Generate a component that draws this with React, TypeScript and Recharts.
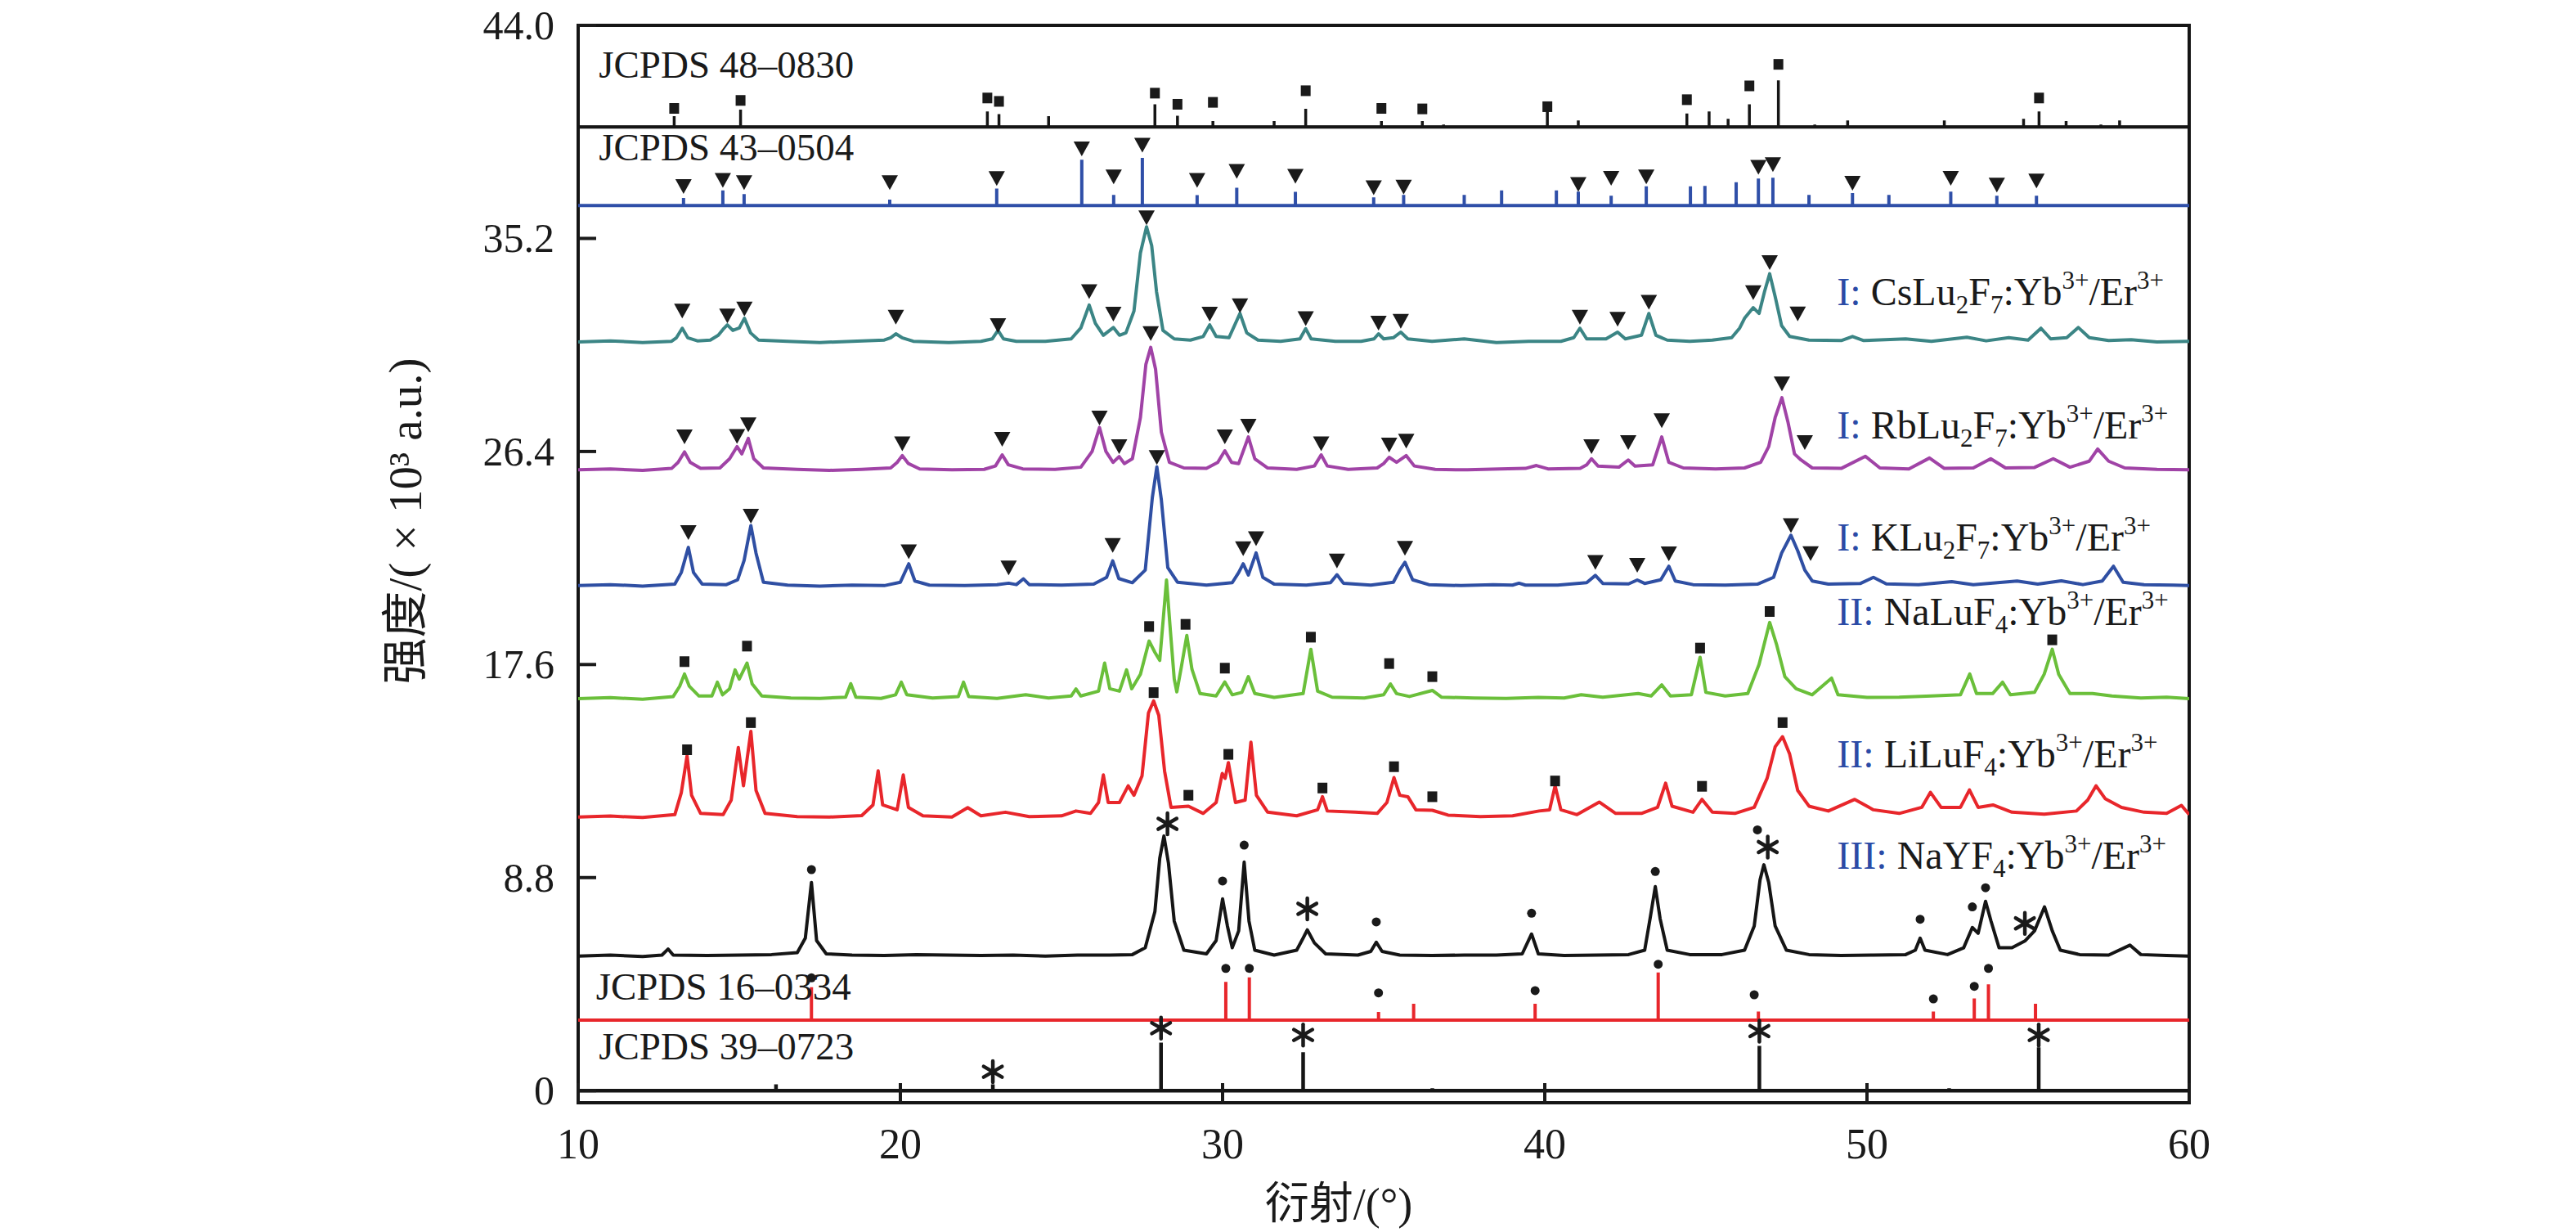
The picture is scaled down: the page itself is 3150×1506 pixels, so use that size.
import React from 'react';
import {
  ComposedChart,
  Line,
  Scatter,
  XAxis,
  YAxis,
  ReferenceArea,
  ReferenceLine,
} from 'recharts';

// ---- axes ----
const xTicks = [10, 20, 30, 40, 50, 60];
const yTicks = [0, 8.8, 17.6, 26.4, 35.2, 44];
const yTickLabels = ['0', '8.8', '17.6', '26.4', '35.2', '44.0'];

// ---- reference cards (stick patterns): [2θ, top] ----
const jcpds480830Base = 39.8;
const jcpds480830: [number, number][] = [
  [12.98, 40.25], [15.04, 40.52], [22.7, 40.44], [23.06, 40.33], [24.6, 40.25],
  [27.9, 40.74], [28.6, 40.27], [29.7, 40.05], [31.6, 40.05], [32.58, 40.55],
  [34.93, 40.05], [36.2, 40.05], [36.86, 39.9], [40.08, 40.44], [41.04, 40.07],
  [44.41, 40.36], [45.1, 40.44], [45.69, 40.14], [46.35, 40.74], [47.25, 41.73],
  [48.38, 39.9], [49.4, 40.07], [52.4, 40.07], [54.86, 40.14], [55.34, 40.44],
  [56.18, 40.05], [57.26, 39.9], [57.84, 40.07],
];

const jcpds430504Base = 36.56;
const jcpds430504: [number, number][] = [
  [13.27, 36.87], [14.49, 37.18], [15.15, 37.03], [19.67, 36.8], [22.99, 37.26],
  [25.63, 38.45], [26.62, 37.0], [27.51, 38.53], [29.21, 36.99], [30.44, 37.29],
  [32.26, 37.12], [34.69, 36.9], [35.62, 37.0], [37.5, 37.0], [38.66, 37.18],
  [40.36, 37.18], [41.04, 37.13], [42.06, 36.96], [43.15, 37.35], [44.52, 37.35],
  [44.97, 37.37], [45.94, 37.52], [46.63, 37.67], [47.08, 37.71], [48.2, 37.0],
  [49.55, 37.07], [50.68, 37.0], [52.6, 37.13], [54.03, 36.96], [55.26, 36.96],
];

const jcpds160334Base = 2.91;
const jcpds160334: [number, number][] = [
  [17.24, 4.27], [30.1, 4.49], [30.83, 4.68], [34.84, 3.25], [35.93, 3.59],
  [39.7, 3.59], [43.52, 4.88], [46.63, 3.27], [52.06, 3.27], [53.33, 3.81],
  [53.77, 4.39], [55.23, 3.59],
];

const jcpds390723Base = 0;
const jcpds390723: [number, number][] = [
  [16.14, 0.26], [22.87, 0.26], [28.09, 1.98], [32.5, 1.59], [36.51, 0.1],
  [46.66, 1.85], [52.55, 0.1], [55.33, 1.79],
];

// ---- measured patterns: [2θ, intensity] ----
const csLu2F7: [number, number][] = [
  [10, 30.92], [11, 30.97], [12, 30.9], [12.9, 30.95], [13.05, 31.1], [13.23, 31.49], [13.4, 31.1], [13.7, 30.97],
  [14.1, 31.0], [14.35, 31.2], [14.5, 31.45], [14.63, 31.63], [14.8, 31.4], [15.0, 31.5], [15.16, 31.9], [15.35, 31.3], [15.6, 31.0],
  [16.5, 30.95], [17.5, 30.9], [18.5, 30.95], [19.5, 31.0], [19.7, 31.1], [19.86, 31.26], [20.05, 31.1], [20.4, 30.95],
  [21.5, 30.9], [22.5, 30.95], [22.85, 31.05], [23.03, 31.4], [23.2, 31.05], [23.6, 30.95],
  [24.5, 30.95], [25.3, 31.05], [25.6, 31.5], [25.86, 32.45], [26.05, 31.7], [26.3, 31.2], [26.61, 31.52], [26.8, 31.2],
  [27.0, 31.3], [27.25, 32.2], [27.45, 34.6], [27.64, 35.68], [27.8, 34.9], [27.95, 33.0], [28.15, 31.4], [28.5, 31.05],
  [29.0, 31.0], [29.4, 31.15], [29.6, 31.63], [29.8, 31.15], [30.2, 31.1], [30.54, 32.1], [30.75, 31.3], [31.1, 31.0],
  [31.8, 30.95], [32.4, 31.05], [32.58, 31.47], [32.75, 31.05], [33.5, 30.95], [34.3, 30.95], [34.7, 31.05], [34.84, 31.26],
  [35.0, 31.05], [35.3, 31.1], [35.53, 31.33], [35.75, 31.05], [36.5, 30.95], [37.5, 31.05], [38.5, 30.9], [39.5, 30.95],
  [40.5, 30.95], [40.9, 31.1], [41.09, 31.49], [41.3, 31.05], [41.9, 31.05], [42.26, 31.33], [42.5, 31.05], [43.0, 31.2],
  [43.23, 32.1], [43.45, 31.2], [43.8, 31.0], [44.5, 30.95], [45.2, 31.0], [45.8, 31.1], [46.05, 31.5], [46.2, 31.9],
  [46.47, 32.34], [46.65, 32.1], [46.82, 33.0], [46.98, 33.74], [47.15, 32.8], [47.35, 31.6], [47.6, 31.15], [48.2, 31.0],
  [49.2, 30.98], [49.55, 31.15], [49.9, 30.98], [51.2, 31.05], [52.0, 30.95], [53.1, 31.12], [53.7, 30.97], [54.4, 31.1],
  [55.0, 31.0], [55.4, 31.49], [55.7, 31.05], [56.2, 31.1], [56.56, 31.52], [56.9, 31.1], [57.5, 30.98], [58.2, 31.02],
  [59, 30.92], [60, 30.95],
];

const rbLu2F7: [number, number][] = [
  [10, 25.64], [11, 25.68], [12, 25.62], [12.9, 25.7], [13.1, 25.95], [13.3, 26.38], [13.48, 25.95], [13.8, 25.7],
  [14.4, 25.72], [14.7, 26.1], [14.93, 26.6], [15.08, 26.3], [15.28, 26.94], [15.45, 26.1], [15.75, 25.72],
  [16.8, 25.66], [17.8, 25.62], [18.8, 25.66], [19.7, 25.72], [19.9, 25.95], [20.06, 26.23], [20.25, 25.9], [20.6, 25.68],
  [21.6, 25.64], [22.6, 25.66], [22.95, 25.8], [23.16, 26.26], [23.35, 25.85], [23.8, 25.68], [24.8, 25.66], [25.6, 25.75],
  [25.95, 26.4], [26.18, 27.39], [26.38, 26.4], [26.6, 25.95], [26.79, 26.19], [26.95, 25.9], [27.2, 26.1], [27.45, 27.8],
  [27.62, 30.0], [27.77, 30.7], [27.92, 29.8], [28.1, 27.2], [28.35, 25.95], [28.8, 25.72],
  [29.5, 25.7], [29.85, 25.95], [30.07, 26.43], [30.28, 25.95], [30.5, 25.9], [30.8, 27.0], [31.0, 26.1], [31.4, 25.72],
  [32.3, 25.66], [32.85, 25.8], [33.06, 26.26], [33.25, 25.8], [33.9, 25.66], [34.8, 25.72], [35.0, 25.9], [35.17, 26.16],
  [35.4, 25.95], [35.7, 26.23], [35.95, 25.8], [36.6, 25.66], [37.6, 25.64], [38.6, 25.68], [39.4, 25.7], [39.74, 25.82],
  [40.1, 25.68], [41.1, 25.7], [41.3, 25.85], [41.45, 26.1], [41.65, 25.8], [42.3, 25.75], [42.59, 26.05], [42.8, 25.8],
  [43.35, 25.85], [43.63, 27.0], [43.85, 25.95], [44.3, 25.72], [45.3, 25.68], [46.2, 25.72], [46.7, 25.95], [46.95, 26.6],
  [47.15, 27.8], [47.36, 28.62], [47.55, 27.6], [47.75, 26.3], [47.95, 26.05], [48.3, 25.72], [49.2, 25.7], [49.95, 26.2],
  [50.4, 25.72], [51.3, 25.68], [51.94, 26.13], [52.4, 25.7], [53.3, 25.72], [53.84, 26.1], [54.3, 25.72], [55.2, 25.74],
  [55.78, 26.1], [56.3, 25.75], [56.9, 26.0], [57.16, 26.5], [57.5, 26.0], [58.0, 25.72], [59.0, 25.66], [60, 25.64],
];

const kLu2F7: [number, number][] = [
  [10, 20.86], [11, 20.9], [12, 20.84], [13.0, 20.92], [13.2, 21.4], [13.42, 22.44], [13.58, 21.4], [13.85, 20.92],
  [14.6, 20.9], [14.95, 21.1], [15.15, 21.9], [15.36, 23.34], [15.52, 22.2], [15.75, 21.0], [16.5, 20.88], [17.5, 20.84],
  [18.5, 20.88], [19.5, 20.86], [20.0, 21.0], [20.26, 21.76], [20.45, 21.05], [20.9, 20.88], [22.0, 20.86], [23.0, 20.9],
  [23.36, 20.96], [23.6, 20.9], [23.82, 21.14], [24.0, 20.9], [25.0, 20.88], [26.0, 20.92], [26.4, 21.2], [26.59, 21.88],
  [26.78, 21.15], [27.2, 20.98], [27.6, 21.5], [27.82, 24.5], [27.96, 25.76], [28.1, 24.4], [28.3, 21.6], [28.6, 21.0],
  [29.5, 20.88], [30.3, 20.98], [30.5, 21.4], [30.64, 21.76], [30.8, 21.3], [31.04, 22.21], [31.25, 21.2], [31.6, 20.92],
  [32.6, 20.88], [33.35, 20.98], [33.55, 21.31], [33.75, 20.96], [34.6, 20.88], [35.3, 21.0], [35.5, 21.5], [35.66, 21.82],
  [35.9, 21.1], [36.4, 20.9], [37.4, 20.86], [38.4, 20.9], [39.0, 20.88], [39.2, 20.96], [39.4, 20.88], [40.4, 20.88],
  [41.3, 20.98], [41.57, 21.28], [41.8, 20.95], [42.6, 20.93], [42.87, 21.09], [43.1, 20.95], [43.6, 21.1], [43.85, 21.66],
  [44.05, 21.05], [44.6, 20.9], [45.6, 20.88], [46.6, 20.92], [47.1, 21.2], [47.35, 22.2], [47.64, 22.94], [47.85, 22.3],
  [48.07, 21.5], [48.3, 21.05], [48.8, 20.92], [49.8, 20.95], [50.2, 21.2], [50.6, 20.93], [51.6, 20.9], [52.63, 21.02],
  [53.3, 20.9], [54.66, 21.05], [55.3, 20.92], [56.03, 21.06], [56.7, 20.9], [57.3, 21.05], [57.65, 21.66], [57.95, 21.0],
  [58.6, 20.9], [59.5, 20.88], [60, 20.86],
];

const naLuF4: [number, number][] = [
  [10, 16.19], [11, 16.23], [12, 16.17], [12.95, 16.28], [13.15, 16.7], [13.3, 17.21], [13.45, 16.7], [13.75, 16.3],
  [14.15, 16.3], [14.32, 16.87], [14.48, 16.35], [14.7, 16.6], [14.87, 17.38], [15.0, 17.0], [15.24, 17.66], [15.4, 16.8],
  [15.7, 16.3], [16.6, 16.22], [17.5, 16.2], [18.3, 16.25], [18.46, 16.81], [18.62, 16.25], [19.4, 16.2], [19.85, 16.35],
  [20.03, 16.87], [20.2, 16.35], [21.0, 16.22], [21.8, 16.28], [21.96, 16.87], [22.12, 16.28], [23.0, 16.2], [23.89, 16.35],
  [24.6, 16.22], [25.3, 16.3], [25.45, 16.59], [25.6, 16.3], [26.15, 16.5], [26.34, 17.66], [26.5, 16.6], [26.8, 16.5],
  [27.02, 17.38], [27.18, 16.6], [27.45, 17.2], [27.72, 18.57], [27.9, 18.1], [28.05, 17.77], [28.16, 19.5], [28.26, 21.09],
  [28.38, 19.0], [28.5, 17.0], [28.58, 16.47], [28.72, 17.5], [28.89, 18.8], [29.05, 17.4], [29.3, 16.4], [29.8, 16.3],
  [30.07, 16.88], [30.3, 16.35], [30.6, 16.45], [30.8, 17.1], [31.0, 16.4], [31.6, 16.24], [32.5, 16.4], [32.74, 18.23],
  [32.95, 16.5], [33.4, 16.25], [34.4, 16.22], [35.0, 16.35], [35.21, 16.8], [35.4, 16.4], [35.8, 16.28], [36.51, 16.53],
  [36.8, 16.25], [37.8, 16.22], [38.8, 16.2], [39.8, 16.24], [40.6, 16.22], [41.13, 16.35], [41.8, 16.25], [42.9, 16.4],
  [43.3, 16.3], [43.63, 16.76], [43.9, 16.3], [44.55, 16.35], [44.82, 17.9], [45.0, 16.45], [45.6, 16.3], [46.3, 16.4],
  [46.65, 17.6], [46.98, 19.34], [47.2, 18.4], [47.45, 17.1], [47.8, 16.6], [48.3, 16.35], [48.9, 17.04], [49.1, 16.35],
  [50.0, 16.24], [51.0, 16.25], [52.0, 16.3], [52.9, 16.35], [53.19, 17.21], [53.4, 16.4], [53.9, 16.4], [54.21, 16.87],
  [54.45, 16.35], [55.2, 16.45], [55.5, 17.2], [55.75, 18.23], [55.95, 17.2], [56.3, 16.4], [57.0, 16.4], [57.6, 16.3],
  [58.5, 16.22], [59.3, 16.25], [60, 16.19],
];

const liLuF4: [number, number][] = [
  [10, 11.3], [11, 11.34], [12, 11.28], [13.0, 11.4], [13.2, 12.3], [13.38, 13.83], [13.52, 12.2], [13.8, 11.45],
  [14.5, 11.4], [14.75, 12.0], [14.97, 14.17], [15.13, 12.59], [15.36, 14.84], [15.52, 12.4], [15.8, 11.45], [16.8, 11.32],
  [17.8, 11.3], [18.8, 11.36], [19.15, 11.8], [19.31, 13.21], [19.45, 11.8], [19.9, 11.6], [20.09, 13.04], [20.25, 11.7],
  [20.7, 11.35], [21.6, 11.3], [22.09, 11.69], [22.5, 11.35], [23.26, 11.5], [24.0, 11.32], [25.0, 11.35], [25.45, 11.55],
  [25.9, 11.45], [26.15, 11.9], [26.3, 13.04], [26.45, 11.9], [26.8, 11.9], [27.07, 12.59], [27.25, 12.2], [27.5, 13.0],
  [27.7, 15.6], [27.86, 16.1], [28.02, 15.5], [28.2, 13.2], [28.4, 11.7], [28.94, 11.75], [29.4, 11.45], [29.8, 11.9],
  [29.99, 13.1], [30.08, 12.9], [30.18, 13.55], [30.4, 11.9], [30.7, 12.0], [30.88, 14.39], [31.05, 12.2], [31.4, 11.5],
  [32.3, 11.35], [32.95, 11.6], [33.1, 12.14], [33.25, 11.55], [34.12, 11.5], [34.8, 11.45], [35.1, 11.9], [35.32, 12.93],
  [35.5, 12.2], [35.75, 12.14], [36.0, 11.6], [36.51, 11.58], [37.0, 11.38], [38.0, 11.32], [39.0, 11.35], [39.82, 11.55],
  [40.15, 11.6], [40.32, 12.59], [40.5, 11.6], [41.0, 11.4], [41.69, 11.92], [42.2, 11.45], [43.0, 11.45], [43.5, 11.7],
  [43.75, 12.7], [43.95, 11.75], [44.6, 11.5], [44.88, 12.03], [45.2, 11.5], [45.9, 11.45], [46.5, 11.7], [46.9, 12.9],
  [47.15, 14.2], [47.38, 14.62], [47.6, 13.9], [47.85, 12.4], [48.2, 11.75], [48.8, 11.55], [49.62, 12.03], [50.2, 11.6],
  [51.0, 11.45], [51.7, 11.7], [51.97, 12.32], [52.3, 11.7], [52.9, 11.7], [53.18, 12.42], [53.45, 11.7], [53.91, 11.8],
  [54.5, 11.5], [55.5, 11.42], [56.5, 11.55], [56.85, 12.0], [57.11, 12.59], [57.4, 12.05], [57.9, 11.7], [58.6, 11.5],
  [59.3, 11.45], [59.76, 11.78], [60, 11.4],
];

const naYF4: [number, number][] = [
  [10, 5.56], [11, 5.6], [12, 5.54], [12.6, 5.6], [12.79, 5.85], [12.95, 5.6], [14, 5.58], [15, 5.6], [16, 5.62],
  [16.8, 5.7], [17.05, 6.3], [17.24, 8.6], [17.4, 6.2], [17.7, 5.65], [18.5, 5.6], [19.5, 5.58], [20.5, 5.62], [21.5, 5.6],
  [22.5, 5.58], [23.5, 5.6], [24.5, 5.56], [25.5, 5.6], [26.5, 5.6], [27.2, 5.62], [27.6, 5.9], [27.9, 7.4], [28.05, 9.6],
  [28.18, 10.52], [28.32, 9.4], [28.5, 7.0], [28.8, 5.8], [29.5, 5.65], [29.8, 6.2], [30.0, 7.92], [30.15, 6.8], [30.3, 5.9],
  [30.5, 6.6], [30.67, 9.44], [30.82, 7.0], [31.0, 5.8], [31.6, 5.6], [32.3, 5.8], [32.5, 6.3], [32.63, 6.64], [32.85, 6.1],
  [33.2, 5.65], [34.2, 5.6], [34.6, 5.75], [34.77, 6.13], [34.95, 5.75], [35.5, 5.6], [36.5, 5.58], [37.5, 5.6], [38.5, 5.6],
  [39.3, 5.65], [39.59, 6.47], [39.8, 5.65], [40.6, 5.58], [41.6, 5.6], [42.6, 5.62], [43.1, 5.8], [43.28, 7.2], [43.43, 8.43],
  [43.58, 7.1], [43.8, 5.8], [44.5, 5.62], [45.5, 5.62], [46.2, 5.8], [46.5, 6.8], [46.68, 8.7], [46.8, 9.33], [46.95, 8.6],
  [47.15, 6.8], [47.5, 5.8], [48.2, 5.62], [49.2, 5.58], [50.2, 5.6], [51.2, 5.62], [51.5, 5.8], [51.65, 6.3], [51.8, 5.8],
  [52.5, 5.62], [53.0, 5.9], [53.27, 6.74], [53.45, 6.5], [53.68, 7.82], [53.85, 7.0], [54.1, 5.9], [54.5, 5.9], [54.9, 6.18],
  [55.2, 6.6], [55.51, 7.59], [55.75, 6.6], [56.0, 5.8], [56.6, 5.62], [57.5, 5.6], [58.16, 6.01], [58.5, 5.62], [59.3, 5.58],
  [60, 5.56],
];

// ---- phase markers: [2θ, y] ----
const squareMarks: [number, number][] = [
  // JCPDS 48-0830
  [12.98, 40.57], [15.04, 40.9], [22.7, 41.0], [23.06, 40.86], [27.9, 41.2], [28.6, 40.74], [29.7, 40.82],
  [32.58, 41.3], [34.93, 40.57], [36.2, 40.55], [40.08, 40.64], [44.41, 40.93], [46.35, 41.5], [47.25, 42.39], [55.34, 41.0],
  // NaLuF4
  [13.3, 17.72], [15.24, 18.36], [27.72, 19.17], [28.85, 19.26], [30.07, 17.45], [32.74, 18.73], [35.17, 17.64],
  [36.51, 17.1], [44.82, 18.28], [46.98, 19.79], [55.75, 18.62],
  // LiLuF4
  [13.38, 14.08], [15.36, 15.2], [27.86, 16.44], [28.94, 12.2], [30.18, 13.89], [33.1, 12.5], [35.32, 13.38],
  [36.51, 12.14], [40.32, 12.79], [44.88, 12.57], [47.38, 15.2],
];

const triangleMarks: [number, number][] = [
  // JCPDS 43-0504
  [13.27, 37.34], [14.49, 37.6], [15.15, 37.5], [19.67, 37.5], [22.99, 37.67], [25.63, 38.9], [26.62, 37.74],
  [27.51, 39.05], [29.21, 37.6], [30.44, 37.97], [32.26, 37.77], [34.69, 37.29], [35.62, 37.32], [41.04, 37.43],
  [42.06, 37.68], [43.15, 37.74], [46.63, 38.14], [47.08, 38.25], [49.55, 37.48], [52.6, 37.68], [54.03, 37.4], [55.26, 37.57],
  // CsLu2F7
  [13.23, 32.2], [14.63, 32.0], [15.16, 32.28], [19.86, 31.95], [23.03, 31.6], [25.86, 33.0], [26.61, 32.07],
  [27.64, 36.05], [29.6, 32.07], [30.54, 32.42], [32.58, 31.89], [34.84, 31.7], [35.53, 31.78], [41.09, 31.95],
  [42.26, 31.86], [43.23, 32.56], [46.47, 32.96], [46.98, 34.2], [47.85, 32.08],
  // RbLu2F7
  [13.3, 27.0], [14.93, 27.02], [15.28, 27.5], [20.06, 26.72], [23.16, 26.9], [26.18, 27.78], [26.79, 26.6],
  [27.77, 31.27], [30.07, 27.0], [30.8, 27.44], [33.06, 26.72], [35.17, 26.67], [35.7, 26.83], [41.45, 26.6],
  [42.59, 26.77], [43.63, 27.67], [47.36, 29.19], [48.07, 26.77],
  // KLu2F7
  [13.42, 23.05], [15.36, 23.73], [20.26, 22.26], [23.36, 21.59], [26.59, 22.52], [27.96, 26.15], [30.64, 22.38],
  [31.04, 22.8], [33.55, 21.88], [35.66, 22.4], [41.57, 21.82], [42.87, 21.7], [43.85, 22.17], [47.64, 23.34], [48.25, 22.18],
];

const dotMarks: [number, number][] = [
  // NaYF4 (cubic)
  [17.24, 9.13], [30.0, 8.66], [30.67, 10.14], [34.77, 6.97], [39.59, 7.33], [43.43, 9.05], [46.6, 10.77],
  [51.65, 7.08], [53.27, 7.59], [53.68, 8.38],
  // JCPDS 16-0334
  [17.24, 4.66], [30.1, 5.05], [30.83, 5.05], [34.84, 4.04], [39.7, 4.13], [43.52, 5.22], [46.5, 3.96],
  [52.06, 3.79], [53.33, 4.31], [53.77, 5.05],
];

const starMarks: [number, number][] = [
  // NaYF4 (hexagonal)
  [28.29, 11.02], [32.63, 7.51], [46.92, 10.06], [54.9, 6.91],
  // JCPDS 39-0723
  [22.87, 0.78], [28.09, 2.58], [32.5, 2.3], [46.66, 2.46], [55.33, 2.3],
];

// ---- text labels ----
const cardLabels = [
  { x: 10.64, y: 41.85, text: 'JCPDS 48–0830' },
  { x: 10.64, y: 38.41, text: 'JCPDS 43–0504' },
  { x: 10.55, y: 3.76, text: 'JCPDS 16–0334' },
  { x: 10.64, y: 1.28, text: 'JCPDS 39–0723' },
];

type Part = [string, '' | 'sub' | 'sup'];
const sampleLabels: { x: number; y: number; phase: string; body: Part[] }[] = [
  { x: 49.07, y: 32.44, phase: 'I', body: [['CsLu', ''], ['2', 'sub'], ['F', ''], ['7', 'sub'], [':Yb', ''], ['3+', 'sup'], ['/Er', ''], ['3+', 'sup']] },
  { x: 49.07, y: 26.94, phase: 'I', body: [['RbLu', ''], ['2', 'sub'], ['F', ''], ['7', 'sub'], [':Yb', ''], ['3+', 'sup'], ['/Er', ''], ['3+', 'sup']] },
  { x: 49.07, y: 22.32, phase: 'I', body: [['KLu', ''], ['2', 'sub'], ['F', ''], ['7', 'sub'], [':Yb', ''], ['3+', 'sup'], ['/Er', ''], ['3+', 'sup']] },
  { x: 49.07, y: 19.23, phase: 'II', body: [['NaLuF', ''], ['4', 'sub'], [':Yb', ''], ['3+', 'sup'], ['/Er', ''], ['3+', 'sup']] },
  { x: 49.07, y: 13.36, phase: 'II', body: [['LiLuF', ''], ['4', 'sub'], [':Yb', ''], ['3+', 'sup'], ['/Er', ''], ['3+', 'sup']] },
  { x: 49.07, y: 9.16, phase: 'III', body: [['NaYF', ''], ['4', 'sub'], [':Yb', ''], ['3+', 'sup'], ['/Er', ''], ['3+', 'sup']] },
];

const SERIF = '"Liberation Serif", "Times New Roman", "Noto Sans CJK SC", serif';
const INK = '#1a1a1a';
const PHASE_BLUE = '#2b4ba6';

const toPoints = (arr: [number, number][]) => arr.map(([x, y]) => ({ x, y }));

function stickSeries(base: number, sticks: [number, number][]) {
  const pts = [{ x: 10, y: base }];
  sticks.forEach(([p, h]) => {
    pts.push({ x: p, y: base }, { x: p, y: h }, { x: p, y: base });
  });
  pts.push({ x: 60, y: base });
  return pts;
}

const Square = (props: any) => (
  <rect x={props.cx - 6} y={props.cy - 6.5} width={12} height={13} fill={INK} />
);

const Triangle = (props: any) => {
  const { cx, cy } = props;
  return <polygon points={`${cx - 10},${cy - 9} ${cx + 10},${cy - 9} ${cx},${cy + 9}`} fill={INK} />;
};

const Dot = (props: any) => <circle cx={props.cx} cy={props.cy} r={5.5} fill={INK} />;

const Star = (props: any) => {
  const { cx, cy } = props;
  const r = 13;
  const angles = [90, 30, -30];
  return (
    <g stroke={INK} strokeWidth={4.5} strokeLinecap="round">
      {angles.map((a) => {
        const dx = r * Math.cos((a * Math.PI) / 180);
        const dy = r * Math.sin((a * Math.PI) / 180);
        return <line key={a} x1={cx - dx} y1={cy - dy} x2={cx + dx} y2={cy + dy} />;
      })}
    </g>
  );
};

const CardLabel = (props: any) => {
  const p = props.payload || props;
  return (
    <text x={props.cx} y={props.cy} fontFamily={SERIF} fontSize={47} fill={INK}>
      {p.text}
    </text>
  );
};

const SampleLabel = (props: any) => {
  const p = props.payload || props;
  let shift = 0;
  const spans = (p.body as Part[]).map(([t, k], i) => {
    const target = k === 'sub' ? 10 : k === 'sup' ? -20 : 0;
    const dy = target - shift;
    shift = target;
    return (
      <tspan key={i} dy={dy} fontSize={k ? 31 : 48}>
        {t}
      </tspan>
    );
  });
  return (
    <text x={props.cx} y={props.cy} fontFamily={SERIF} fontSize={48} fill={INK} style={{ whiteSpace: 'pre' }}>
      <tspan fill={PHASE_BLUE}>{p.phase + ': '}</tspan>
      {spans}
    </text>
  );
};

const YTick = (props: any) => {
  const { y, payload } = props;
  const i = yTicks.indexOf(payload.value);
  return (
    <g>
      <line x1={707} x2={729} y1={y} y2={y} stroke={INK} strokeWidth={4} />
      <text x={678} y={y} textAnchor="end" dominantBaseline="central" fontFamily={SERIF} fontSize={50} fill={INK}>
        {i >= 0 ? yTickLabels[i] : String(payload.value)}
      </text>
    </g>
  );
};

const XTick = (props: any) => {
  const { x, payload } = props;
  return (
    <g>
      <line x1={x} x2={x} y1={1348} y2={1324} stroke={INK} strokeWidth={4} />
      <text x={x} y={1398} textAnchor="middle" dominantBaseline="central" fontFamily={SERIF} fontSize={52} fill={INK}>
        {payload.value}
      </text>
    </g>
  );
};

const YLabel = () => (
  <text
    x={495}
    y={637}
    transform="rotate(-90 495 637)"
    textAnchor="middle"
    dominantBaseline="central"
    fontFamily={SERIF}
    fontSize={57}
    fill={INK}
    style={{ whiteSpace: 'pre' }}
  >
    强度/( × 10³ a.u.)
  </text>
);

const XLabel = () => (
  <text x={1637} y={1472} textAnchor="middle" dominantBaseline="central" fontFamily={SERIF} fontSize={54} fill={INK}>
    衍射/(°)
  </text>
);

const patterns = [
  { key: 'cs', data: csLu2F7, color: '#3b8585' },
  { key: 'rb', data: rbLu2F7, color: '#a043a6' },
  { key: 'k', data: kLu2F7, color: '#2f4fa3' },
  { key: 'naLu', data: naLuF4, color: '#6abf3a' },
  { key: 'li', data: liLuF4, color: '#e8262b' },
  { key: 'naY', data: naYF4, color: '#151515' },
];

const cards = [
  { key: 'c48', data: stickSeries(jcpds480830Base, jcpds480830), color: '#151515', width: 3.5 },
  { key: 'c43', data: stickSeries(jcpds430504Base, jcpds430504), color: '#2f4fa8', width: 4 },
  { key: 'c16', data: stickSeries(jcpds160334Base, jcpds160334), color: '#e8262b', width: 4 },
  { key: 'c39', data: stickSeries(jcpds390723Base, jcpds390723), color: '#151515', width: 4.5 },
];

export default function App() {
  return (
    <div style={{ position: 'absolute', left: 0, top: 0, width: 3150, height: 1506, background: '#fff' }}>
      <ComposedChart width={3150} height={1506} margin={{ top: 31, right: 473, bottom: 0, left: 0 }}>
        <XAxis
          dataKey="x"
          type="number"
          domain={[10, 60]}
          ticks={xTicks}
          interval={0}
          height={158}
          axisLine={false}
          tickLine={false}
          tick={<XTick />}
          label={<XLabel />}
          allowDataOverflow
        />
        <YAxis
          type="number"
          domain={[-0.5, 44]}
          ticks={yTicks}
          interval={0}
          width={707}
          axisLine={false}
          tickLine={false}
          tick={<YTick />}
          label={<YLabel />}
          allowDataOverflow
        />
        <ReferenceLine y={jcpds480830Base} stroke="#151515" strokeWidth={4} />
        {cards.map((c) => (
          <Line
            key={c.key}
            data={c.data}
            dataKey="y"
            type="linear"
            stroke={c.color}
            strokeWidth={c.width}
            strokeLinejoin="bevel"
            dot={false}
            activeDot={false}
            isAnimationActive={false}
          />
        ))}
        {patterns.map((p) => (
          <Line
            key={p.key}
            data={toPoints(p.data)}
            dataKey="y"
            type="linear"
            stroke={p.color}
            strokeWidth={4}
            strokeLinejoin="round"
            dot={false}
            activeDot={false}
            isAnimationActive={false}
          />
        ))}
        <Scatter data={toPoints(squareMarks)} dataKey="y" shape={Square} isAnimationActive={false} />
        <Scatter data={toPoints(triangleMarks)} dataKey="y" shape={Triangle} isAnimationActive={false} />
        <Scatter data={toPoints(dotMarks)} dataKey="y" shape={Dot} isAnimationActive={false} />
        <Scatter data={toPoints(starMarks)} dataKey="y" shape={Star} isAnimationActive={false} />
        <Scatter data={cardLabels} dataKey="y" shape={CardLabel} isAnimationActive={false} />
        <Scatter data={sampleLabels} dataKey="y" shape={SampleLabel} isAnimationActive={false} />
        <ReferenceArea x1={10} x2={60} y1={-0.5} y2={44} fill="none" stroke="#151515" strokeWidth={4} />
      </ComposedChart>
    </div>
  );
}
